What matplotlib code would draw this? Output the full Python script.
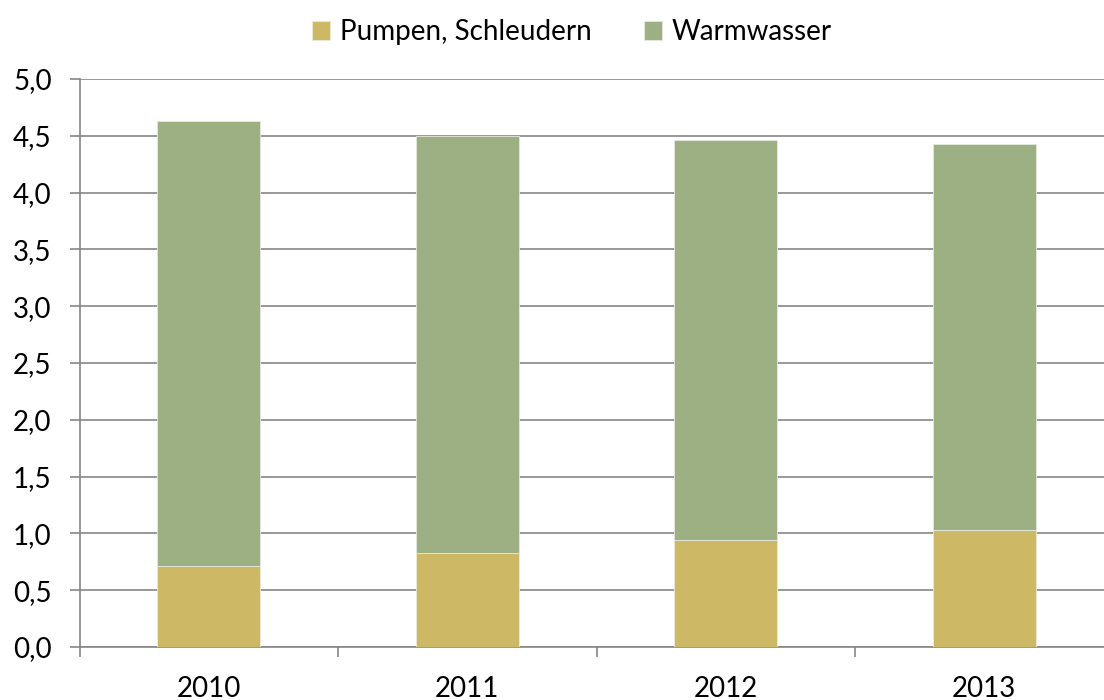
import numpy as np
import matplotlib.pyplot as plt
from matplotlib.ticker import FixedLocator

years = ['2010', '2011', '2012', '2013']
pumpen = [0.71, 0.83, 0.94, 1.03]
gesamt = [4.63, 4.50, 4.46, 4.43]
warmwasser = [g - p for g, p in zip(gesamt, pumpen)]
y_ticks = [0.0, 0.5, 1.0, 1.5, 2.0, 2.5, 3.0, 3.5, 4.0, 4.5, 5.0]

gelb = '#CDB866'
gruen = '#9CB084'
grau = '#868686'

plt.rcParams['font.family'] = ['Lato', 'DejaVu Sans']

fig = plt.figure(figsize=(11.04, 7.0), dpi=100)
ax = fig.add_axes([79.5 / 1104, 53 / 700, 1034 / 1104, 568 / 700])

x = np.arange(len(years))
ax.bar(x, pumpen, width=0.4, color=gelb, edgecolor='#EDEAD8', linewidth=0.6,
       label='Pumpen, Schleudern', zorder=3)
ax.bar(x, warmwasser, width=0.4, bottom=pumpen, color=gruen, edgecolor='#E6EADF',
       linewidth=0.6, label='Warmwasser', zorder=3)

ax.set_xlim(-0.5, len(years) - 0.5)
ax.set_ylim(0, 5)
ax.set_yticks(y_ticks)
ax.set_yticklabels([f'{v:.1f}'.replace('.', ',') for v in y_ticks])
ax.set_xticks(x)
ax.set_xticklabels(years)
ax.xaxis.set_minor_locator(FixedLocator(np.arange(-0.5, len(years), 1.0)))

ax.yaxis.grid(True, color=grau, linewidth=1.2, zorder=0)
ax.set_axisbelow(True)
for s in ['top', 'right']:
    ax.spines[s].set_visible(False)
for s in ['left', 'bottom']:
    ax.spines[s].set_color(grau)
    ax.spines[s].set_linewidth(1.2)

ax.tick_params(axis='y', length=7, color=grau, width=1.2, labelsize=20, pad=13)
ax.tick_params(axis='x', which='major', length=0, labelsize=20, pad=21)
ax.tick_params(axis='x', which='minor', length=7, color=grau, width=1.2)

fig.legend(loc='upper center', bbox_to_anchor=(0.518, 1.0), ncol=2, frameon=False,
           fontsize=20, handlelength=0.65, handleheight=0.65, handletextpad=0.35,
           columnspacing=1.9, borderaxespad=0.3)

fig.savefig('out.png', dpi=100)
